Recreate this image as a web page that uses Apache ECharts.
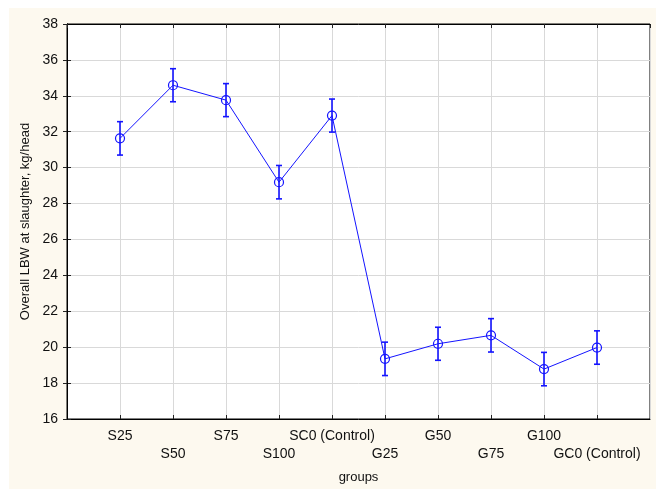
<!DOCTYPE html>
<html>
<head>
<meta charset="utf-8">
<script src="https://cdn.jsdelivr.net/npm/echarts@6/dist/echarts.min.js"></script>
<style>
  html, body { margin: 0; padding: 0; background: #ffffff; }
  #chart { width: 656px; height: 489px; }
</style>
</head>
<body>
<div id="chart"></div>
<script>
// Groups along the x axis
const categories = ['S25', 'S50', 'S75', 'S100', 'SC0 (Control)', 'G25', 'G50', 'G75', 'G100', 'GC0 (Control)'];
// Mean live body weight at slaughter, kg/head
const means = [31.63, 34.59, 33.76, 29.19, 32.90, 19.35, 20.19, 20.66, 18.78, 19.98];
// Half-length of each error bar, kg/head
const errors = [0.93, 0.92, 0.92, 0.93, 0.92, 0.93, 0.92, 0.93, 0.93, 0.93];
// Y axis range and step
const yMin = 16, yMax = 38, yStep = 2;

const BLUE = '#1414ff';
const FONT = 'Liberation Sans, Arial, sans-serif';

const pts = means.map((v, i) => [i + 1, v]);
const bars = means.map((v, i) => [i + 1, v - errors[i], v + errors[i]]);

const chart = echarts.init(document.getElementById('chart'), null, { renderer: 'canvas' });

const tickStyle = { show: true, inside: true, length: 4, lineStyle: { color: '#222', width: 1 } };

chart.setOption({
  animation: false,
  backgroundColor: '#ffffff',
  graphic: [{
    type: 'rect', z: -10, silent: true,
    shape: { x: 9, y: 8, width: 647, height: 481 },
    style: { fill: '#fdf9ef' }
  }],
  grid: { left: 67, top: 24, right: 6, bottom: 63, show: true, backgroundColor: '#ffffff', borderColor: '#000', borderWidth: 1 },
  xAxis: [{
    type: 'value', min: 0, max: categories.length + 1, interval: 1,
    name: 'groups', nameLocation: 'middle', nameGap: 52,
    nameTextStyle: { fontFamily: FONT, fontSize: 13, color: '#111' },
    axisLine: { show: true, lineStyle: { color: '#000', width: 1 } },
    axisTick: tickStyle,
    splitLine: { show: true, lineStyle: { color: '#d9d9d9', width: 1 } },
    axisLabel: {
      fontFamily: FONT, fontSize: 14, color: '#111', margin: 8, lineHeight: 18,
      showMinLabel: false, showMaxLabel: false,
      formatter: v => {
        const name = categories[v - 1];
        if (!name) return '';
        return (v % 2 === 0 ? '\n' : '') + name;
      }
    }
  }, {
    type: 'value', position: 'top', min: 0, max: categories.length + 1, interval: 1, z: 3,
    axisLine: { show: true, lineStyle: { color: '#000', width: 1 } },
    axisTick: tickStyle, axisLabel: { show: false }, splitLine: { show: false }
  }],
  yAxis: [{
    type: 'value', min: yMin, max: yMax, interval: yStep,
    name: 'Overall LBW at slaughter, kg/head', nameLocation: 'middle', nameGap: 31,
    nameTextStyle: { fontFamily: FONT, fontSize: 13, color: '#111' },
    axisLine: { show: true, lineStyle: { color: '#000', width: 1 } },
    axisTick: tickStyle,
    splitLine: { show: true, lineStyle: { color: '#d9d9d9', width: 1 } },
    axisLabel: { fontFamily: FONT, fontSize: 14, color: '#111', margin: 9 }
  }, {
    type: 'value', position: 'right', min: yMin, max: yMax, interval: yStep, z: 3,
    axisLine: { show: true, lineStyle: { color: '#000', width: 1 } },
    axisTick: tickStyle, axisLabel: { show: false }, splitLine: { show: false }
  }],
  series: [{
    type: 'custom',
    xAxisIndex: 0, yAxisIndex: 0,
    z: 4,
    data: bars,
    renderItem: (params, api) => {
      const x = api.value(0);
      const lo = api.coord([x, api.value(1)]);
      const hi = api.coord([x, api.value(2)]);
      const cap = 3;
      const st = { stroke: BLUE, lineWidth: 1.6 };
      return {
        type: 'group',
        children: [
          { type: 'line', shape: { x1: lo[0], y1: lo[1], x2: hi[0], y2: hi[1] }, style: st },
          { type: 'line', shape: { x1: lo[0] - cap, y1: lo[1], x2: lo[0] + cap, y2: lo[1] }, style: st },
          { type: 'line', shape: { x1: hi[0] - cap, y1: hi[1], x2: hi[0] + cap, y2: hi[1] }, style: st }
        ]
      };
    }
  }, {
    type: 'line',
    xAxisIndex: 0, yAxisIndex: 0,
    z: 5,
    data: pts,
    symbol: 'circle', symbolSize: 9,
    lineStyle: { color: BLUE, width: 1 },
    itemStyle: { color: 'rgba(0,0,0,0)', borderColor: BLUE, borderWidth: 1.2 }
  }]
});
</script>
</body>
</html>
